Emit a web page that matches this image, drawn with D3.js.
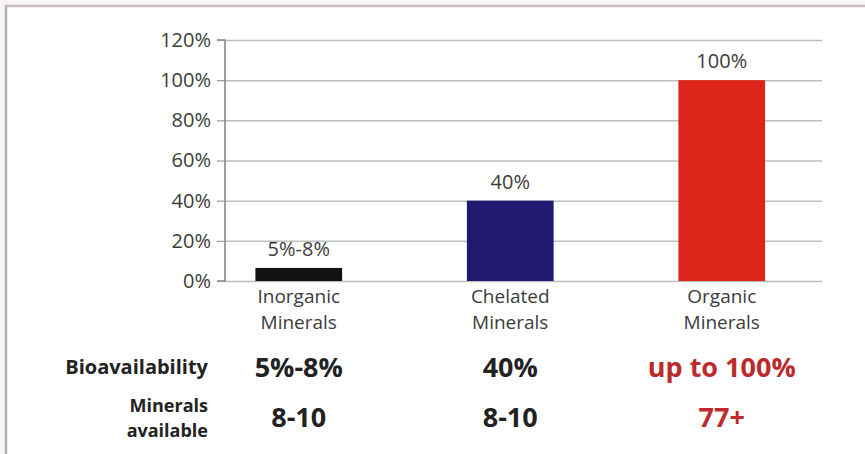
<!DOCTYPE html>
<html>
<head>
<meta charset="utf-8">
<script src="https://cdn.jsdelivr.net/npm/d3@7"></script>
<style>
  body { margin: 0; background: #fff; }
  text { font-family: "Open Sans", sans-serif; }
</style>
</head>
<body>
<div id="chart"></div>
<script>
// chart values
var categories = ["Inorganic Minerals", "Chelated Minerals", "Organic Minerals"];
var values = [0.065, 0.40, 1.00];
var valueLabels = ["5%-8%", "40%", "100%"];
var yTicks = [0, 0.2, 0.4, 0.6, 0.8, 1.0, 1.2];
var rowNames = ["Bioavailability", "Minerals available"];
var bioavailability = ["5%-8%", "40%", "up to 100%"];
var mineralsAvailable = ["8-10", "8-10", "77+"];

var barColors = ["#121212", "#21186f", "#dc2419"];
var tableColors = ["#222", "#222", "#bd2a2e"];

var svgWidth = 865;
var svgHeight = 454;

var svg = d3.select("#chart")
  .append("svg")
  .attr("width", svgWidth)
  .attr("height", svgHeight);

// frame of the slide
svg.append("rect")
  .attr("x", 0).attr("y", 0)
  .attr("width", svgWidth).attr("height", svgHeight)
  .attr("fill", "#f6f4f4");
svg.append("rect")
  .attr("x", 7).attr("y", 7)
  .attr("width", svgWidth - 7).attr("height", svgHeight - 7)
  .attr("fill", "#fff");
svg.append("line")
  .attr("x1", 6).attr("x2", svgWidth)
  .attr("y1", 6).attr("y2", 6)
  .attr("stroke", "#c9babc").attr("stroke-width", 2.5);
svg.append("line")
  .attr("x1", 6).attr("x2", 6)
  .attr("y1", 5).attr("y2", svgHeight)
  .attr("stroke", "#b3b3b3").attr("stroke-width", 2.5);

// scales
var plotLeft = 225, plotRight = 822;
var y = d3.scaleLinear().domain([0, 1.2]).range([281, 40]);
var x = d3.scaleBand()
  .domain(categories)
  .range([193, 827.5])
  .paddingInner(0.59)
  .paddingOuter(0.295);
var cx = d => x(d) + x.bandwidth() / 2;

// gridlines
var grid = svg.append("g")
  .attr("transform", `translate(${plotLeft}, 0)`)
  .call(d3.axisLeft(y).tickValues(yTicks).tickSize(-(plotRight - plotLeft)).tickFormat(""));
grid.select(".domain").remove();
grid.selectAll(".tick line").attr("stroke", "#bdbdbd").attr("stroke-width", 1.5);

// y axis with labels
var yAxis = svg.append("g")
  .attr("transform", `translate(${plotLeft}, 0)`)
  .call(d3.axisLeft(y).tickValues(yTicks).tickSize(8).tickPadding(6).tickFormat(d3.format(".0%")));
yAxis.select(".domain").attr("stroke", "#7f7f7f").attr("stroke-width", 1.5)
  .attr("d", `M-8,${y(1.2)}H0V${y(0)}H-8`);
yAxis.selectAll(".tick line").attr("stroke", "#9a9a9a").attr("stroke-width", 1.2);
yAxis.selectAll(".tick text")
  .attr("fill", "#3c3c3c")
  .style("font-size", "20px")
  .style("font-family", "'Open Sans', sans-serif");

// bars
svg.selectAll("rect.bar")
  .data(values)
  .enter()
  .append("rect")
  .attr("class", "bar")
  .attr("x", (d, i) => x(categories[i]))
  .attr("width", x.bandwidth())
  .attr("y", d => y(d))
  .attr("height", d => y(0) - y(d))
  .attr("fill", (d, i) => barColors[i]);

// value labels above the bars
svg.selectAll("text.value")
  .data(values)
  .enter()
  .append("text")
  .attr("class", "value")
  .attr("x", (d, i) => cx(categories[i]))
  .attr("y", d => y(d) - 12)
  .attr("text-anchor", "middle")
  .attr("fill", "#3c3c3c")
  .style("font-size", "20px")
  .text((d, i) => valueLabels[i]);

// category labels, one text per line
categories.forEach(function(c) {
  c.split(" ").forEach(function(word, j) {
    svg.append("text")
      .attr("x", cx(c))
      .attr("y", 303 + j * 25.5)
      .attr("text-anchor", "middle")
      .attr("fill", "#3c3c3c")
      .style("font-size", "19px")
      .text(word);
  });
});

// table under the chart
var rowBaselines = [377, 427];
var nameLines = [[374], [412, 437]];
rowNames.forEach(function(name, r) {
  var words = r === 0 ? [name] : name.split(" ");
  words.forEach(function(word, j) {
    svg.append("text")
      .attr("x", 208)
      .attr("y", nameLines[r][j])
      .attr("text-anchor", "end")
      .attr("fill", "#222")
      .style("font-size", r === 0 ? "20px" : "18px")
      .style("font-weight", "bold")
      .text(word);
  });
});

[bioavailability, mineralsAvailable].forEach(function(row, r) {
  svg.selectAll("text.row" + r)
    .data(row)
    .enter()
    .append("text")
    .attr("class", "row" + r)
    .attr("x", (d, i) => cx(categories[i]))
    .attr("y", rowBaselines[r])
    .attr("text-anchor", "middle")
    .attr("fill", (d, i) => tableColors[i])
    .style("font-size", "27px")
    .style("font-weight", "bold")
    .text(d => d);
});
</script>
</body>
</html>
